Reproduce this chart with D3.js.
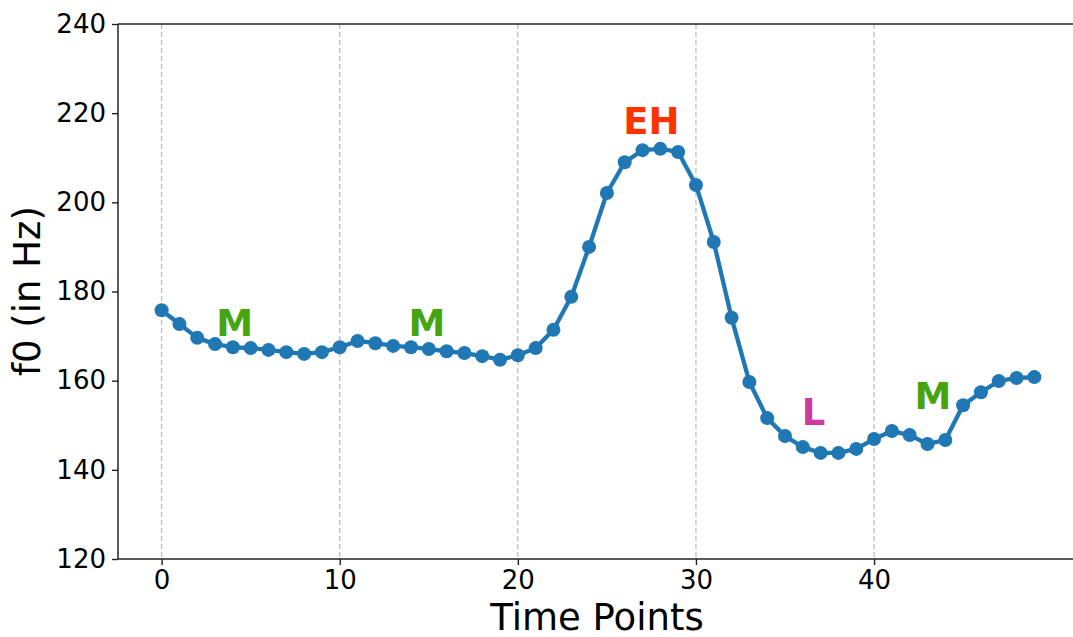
<!DOCTYPE html>
<html>
<head>
<meta charset="utf-8">
<script src="https://cdnjs.cloudflare.com/ajax/libs/d3/7.8.5/d3.min.js"></script>
<style>
  body { margin: 0; background: #fff; }
  svg { display: block; font-family: "DejaVu Sans", sans-serif; }
</style>
</head>
<body>
<script>
// f0 contour, one value per time point
var f0 = [175.8, 172.7, 169.6, 168.2, 167.5, 167.3, 166.9, 166.4, 166.0, 166.4,
          167.5, 168.9, 168.4, 167.8, 167.5, 167.1, 166.6, 166.2, 165.5, 164.7,
          165.7, 167.3, 171.4, 178.8, 190.0, 202.1, 209.0, 211.7, 212.0, 211.3,
          203.9, 191.1, 174.1, 159.7, 151.6, 147.6, 145.1, 143.8, 143.8, 144.7,
          146.9, 148.7, 147.8, 145.8, 146.7, 154.5, 157.4, 159.9, 160.6, 160.8];
var xTicks = [0, 10, 20, 30, 40];
var yTicks = [120, 140, 160, 180, 200, 220, 240];

// tone labels
var toneText = ["M", "M", "EH", "L", "M"];
var toneX = [4.1, 14.9, 27.5, 36.6, 43.3];
var toneY = [172.9, 172.9, 218.2, 152.9, 156.5];
var toneColor = ["#46a40f", "#46a40f", "#ff3300", "#cf3a9f", "#46a40f"];

var width = 1073, height = 637;
var margin = {top: 24, left: 118, bottom: 78};

var svg = d3.select("body").append("svg")
    .attr("width", width).attr("height", height);

var n = f0.length;
var x = d3.scaleLinear()
    .domain([-0.05 * (n - 1), (n - 1) * 1.05])
    .range([margin.left, margin.left + 960]);
var y = d3.scaleLinear()
    .domain([120, 240])
    .range([height - margin.bottom, margin.top]);

var plotRight = width + 10;

// vertical dashed grid
svg.append("g").selectAll("line")
    .data(xTicks).enter().append("line")
    .attr("x1", function(d){ return x(d); })
    .attr("x2", function(d){ return x(d); })
    .attr("y1", y(240)).attr("y2", y(120))
    .attr("stroke", "#b8b8b8")
    .attr("stroke-width", 1.2)
    .attr("stroke-dasharray", "5,3");

// axes
var xAxis = d3.axisBottom(x).tickValues(xTicks).tickSize(6).tickPadding(6);
var yAxis = d3.axisLeft(y).tickValues(yTicks).tickSize(6).tickPadding(6);

var gx = svg.append("g").attr("transform", "translate(0," + y(120) + ")").call(xAxis);
var gy = svg.append("g").attr("transform", "translate(" + margin.left + ",0)").call(yAxis);

[gx, gy].forEach(function(g){
  g.select(".domain").remove();
  g.selectAll(".tick line").attr("stroke", "#222").attr("stroke-width", 1.4);
  g.selectAll(".tick text").attr("fill", "#000")
    .style("font-size", "26px").style("font-family", "DejaVu Sans");
});

// spines
svg.append("line").attr("x1", margin.left).attr("x2", plotRight)
  .attr("y1", y(120)).attr("y2", y(120)).attr("stroke", "#222").attr("stroke-width", 1.5);
svg.append("line").attr("x1", margin.left).attr("x2", plotRight)
  .attr("y1", y(240)).attr("y2", y(240)).attr("stroke", "#222").attr("stroke-width", 1.5);
svg.append("line").attr("x1", margin.left).attr("x2", margin.left)
  .attr("y1", y(120)).attr("y2", y(240)).attr("stroke", "#222").attr("stroke-width", 1.5);

// line + markers
var line = d3.line()
    .x(function(d, i){ return x(i); })
    .y(function(d){ return y(d); });

svg.append("path").datum(f0)
    .attr("d", line)
    .attr("fill", "none")
    .attr("stroke", "#1f77b4")
    .attr("stroke-width", 4.3)
    .attr("stroke-linejoin", "round");

svg.append("g").selectAll("circle")
    .data(f0).enter().append("circle")
    .attr("cx", function(d, i){ return x(i); })
    .attr("cy", function(d){ return y(d); })
    .attr("r", 7)
    .attr("fill", "#1f77b4");

// tone labels
svg.append("g").selectAll("text")
    .data(toneText).enter().append("text")
    .attr("x", function(d, i){ return x(toneX[i]); })
    .attr("y", function(d, i){ return y(toneY[i]); })
    .attr("text-anchor", "middle")
    .attr("dominant-baseline", "central")
    .attr("fill", function(d, i){ return toneColor[i]; })
    .style("font-size", "37px")
    .style("font-weight", "bold")
    .text(function(d){ return d; });

// axis titles
svg.append("text")
    .attr("x", 597).attr("y", 630)
    .attr("text-anchor", "middle")
    .style("font-size", "37px")
    .attr("fill", "#000")
    .text("Time Points");

svg.append("text")
    .attr("transform", "translate(40,291) rotate(-90)")
    .attr("text-anchor", "middle")
    .style("font-size", "37px")
    .attr("fill", "#000")
    .text("f0 (in Hz)");
</script>
</body>
</html>
